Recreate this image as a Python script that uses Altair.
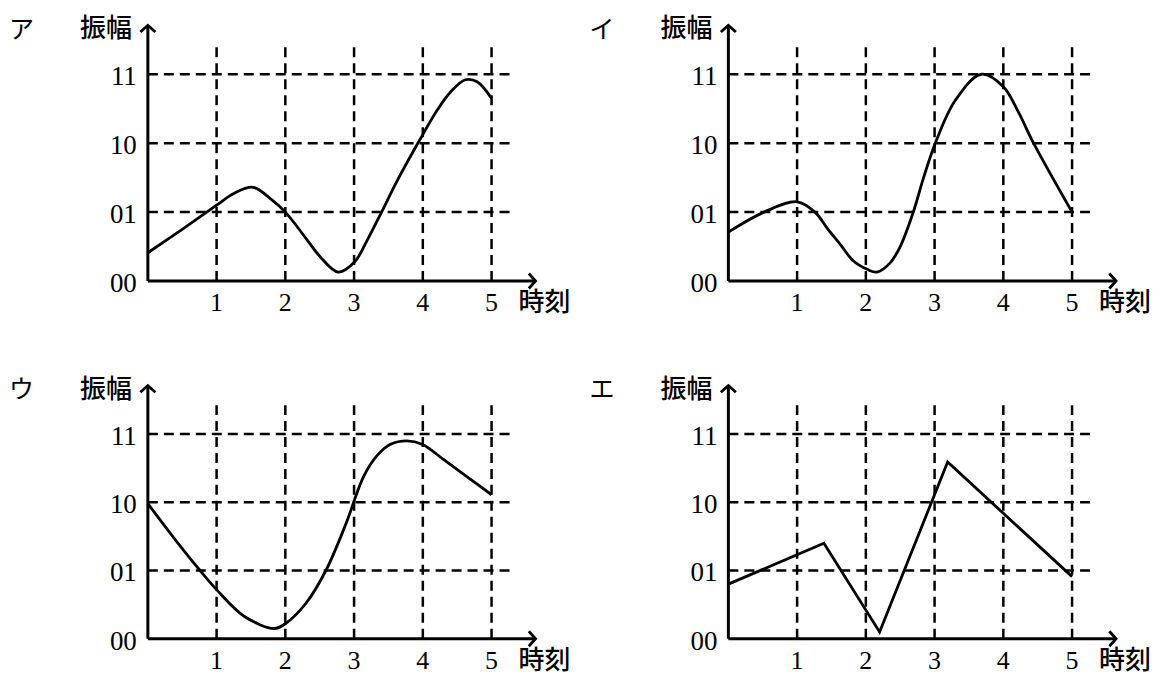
import altair as alt
import pandas as pd

# readings of 振幅 (in grid units, 00=0 ... 11=3) against 時刻
a_t = [0, 0.5, 1.0, 1.25, 1.53, 1.8, 2.0, 2.3, 2.5, 2.77, 3.01, 3.19, 3.4, 3.63, 3.94, 4.21, 4.4, 4.62, 4.79, 5.0]
a_v = [0.41, 0.75, 1.10, 1.27, 1.36, 1.18, 1.0, 0.62, 0.36, 0.13, 0.28, 0.59, 1.0, 1.46, 2.02, 2.48, 2.74, 2.92, 2.89, 2.65]

i_t = [0, 0.52, 1.0, 1.26, 1.45, 1.63, 1.82, 2.02, 2.16, 2.35, 2.5, 2.69, 2.84, 3.01, 3.3, 3.68, 4.0, 4.22, 4.44, 5.0]
i_v = [0.71, 1.0, 1.15, 1.0, 0.75, 0.53, 0.29, 0.17, 0.13, 0.26, 0.5, 1.0, 1.5, 2.0, 2.62, 3.0, 2.82, 2.45, 2.0, 1.0]

u_t = [0, 0.4, 0.76, 1.0, 1.4, 1.84, 2.0, 2.3, 2.59, 2.88, 3.14, 3.34, 3.53, 3.77, 3.99, 4.31, 4.69, 5.0]
u_v = [1.98, 1.45, 1.0, 0.72, 0.33, 0.15, 0.22, 0.52, 1.0, 1.68, 2.38, 2.69, 2.85, 2.90, 2.85, 2.62, 2.34, 2.11]

e_t = [0, 1.39, 2.20, 3.19, 5.0]
e_v = [0.80, 1.40, 0.10, 2.59, 0.91]

y_levels = [0, 1, 2, 3]
y_labels = ["00", "01", "10", "11"]
x_ticks = [1, 2, 3, 4, 5]

W = 574
SERIF = "Liberation Serif"
JP = "Noto Sans CJK JP"
UP = "M -1 0.9 L 0 0 L 1 0.9"
RIGHT = "M -0.9 -1 L 0 0 L -0.9 1"


def panel(name, t, v, interp, xdom, ydom, h):
    xs = alt.Scale(domain=xdom, nice=False, zero=False)
    ys = alt.Scale(domain=ydom, nice=False, zero=False)
    X = lambda f: alt.X(f, type="quantitative", scale=xs, axis=None)
    Y = lambda f: alt.Y(f, type="quantitative", scale=ys, axis=None)

    dash = dict(color="black", strokeWidth=2.5, strokeDash=[10, 6])
    hgrid = alt.Chart(pd.DataFrame({"y": y_levels[1:], "x": 0, "x2": 5.27})).mark_rule(**dash).encode(
        x=X("x"), x2="x2", y=Y("y"))
    vgrid = alt.Chart(pd.DataFrame({"x": x_ticks, "y": 0, "y2": 3.42})).mark_rule(**dash).encode(
        x=X("x"), y=Y("y"), y2="y2")

    axes_df = pd.DataFrame({"x": [0, 0], "x2": [0, 5.64], "y": [0, 0], "y2": [3.71, 0]})
    axes = alt.Chart(axes_df).mark_rule(color="black", strokeWidth=3).encode(
        x=X("x"), x2="x2", y=Y("y"), y2="y2")

    up = alt.Chart(pd.DataFrame({"x": [0], "y": [3.71]})).mark_point(
        shape=UP, size=225, filled=False, color="black", strokeWidth=2.8, opacity=1
    ).encode(x=X("x"), y=Y("y"))
    right = alt.Chart(pd.DataFrame({"x": [5.64], "y": [0]})).mark_point(
        shape=RIGHT, size=225, filled=False, color="black", strokeWidth=2.8, opacity=1
    ).encode(x=X("x"), y=Y("y"))

    curve = alt.Chart(pd.DataFrame({"t": t, "v": v})).mark_line(
        color="black", strokeWidth=2.8, interpolate=interp
    ).encode(x=X("t"), y=Y("v"), order="t:Q")

    ylab = alt.Chart(pd.DataFrame({"y": y_levels, "label": y_labels, "x": -0.16})).mark_text(
        font=SERIF, fontSize=27, align="right", baseline="middle", dy=3, color="black"
    ).encode(x=X("x"), y=Y("y"), text="label:N")
    xlab = alt.Chart(pd.DataFrame({"x": x_ticks, "y": -0.32})).mark_text(
        font=SERIF, fontSize=26, align="center", baseline="middle", color="black"
    ).encode(x=X("x"), y=Y("y"), text="x:N")

    words = pd.DataFrame({"x": [-0.61, 5.77], "y": [3.65, -0.32], "label": ["振幅", "時刻"]})
    wlab = alt.Chart(words).mark_text(
        font=JP, fontSize=26, fontWeight=500, align="center", baseline="middle", color="black"
    ).encode(x=X("x"), y=Y("y"), text="label:N")
    tag = alt.Chart(pd.DataFrame({"x": [-1.84], "y": [3.64], "label": [name]})).mark_text(
        font=JP, fontSize=25, align="center", baseline="middle", color="black"
    ).encode(x=X("x"), y=Y("y"), text="label:N")

    return alt.layer(hgrid, vgrid, axes, up, right, curve, ylab, xlab, wlab, tag).properties(
        width=W, height=h)


col1 = [-2.02, 6.323]
col2 = [-2.122, 6.221]
row1 = [-0.87, 3.957]
row2 = [-0.615, 4.363]

top = alt.hconcat(
    panel("ア", a_t, a_v, "catmull-rom", col1, row1, 333),
    panel("イ", i_t, i_v, "catmull-rom", col2, row1, 333),
    spacing=0)
bottom = alt.hconcat(
    panel("ウ", u_t, u_v, "catmull-rom", col1, row2, 340),
    panel("エ", e_t, e_v, "linear", col2, row2, 340),
    spacing=0)

chart = alt.vconcat(top, bottom, spacing=0).properties(
    padding=0, background="white"
).configure_view(stroke=None)

chart.save("out.html", embed_options={"renderer": "svg", "actions": False})
